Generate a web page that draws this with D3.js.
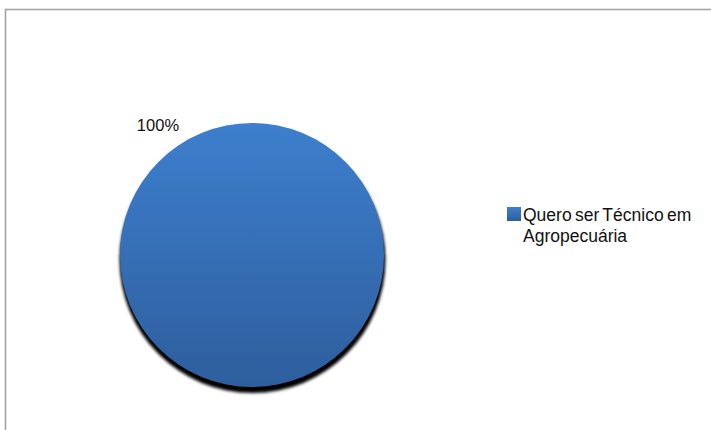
<!DOCTYPE html>
<html>
<head>
<meta charset="utf-8">
<script src="https://cdn.jsdelivr.net/npm/d3@7"></script>
<style>
  body { margin: 0; background: #fff; }
  svg { display: block; font-family: "Liberation Sans", Arial, sans-serif; }
</style>
</head>
<body>
<svg id="chart" width="711" height="430"></svg>
<script>
// data
let categories = ["Quero ser Técnico em Agropecuária"]
let values = [100]
let pctLabels = ["100%"]
let legendLines = [["Quero ser Técnico em", "Agropecuária"]]

let chart = d3.select('#chart'),
    width = +chart.attr('width'),
    height = +chart.attr('height')

// chart area frame (only top and left edges are visible)
chart.append("rect")
    .attr("x", 5.5).attr("y", 9.5)
    .attr("width", width + 20).attr("height", height + 20)
    .attr("fill", "none")
    .attr("stroke", "#a3a3a3")
    .attr("stroke-width", 1.6)

let defs = chart.append("defs")
let grad = defs.append("linearGradient")
    .attr("id", "blue-grad")
    .attr("x1", 0).attr("y1", 0).attr("x2", 0).attr("y2", 1)
grad.append("stop").attr("offset", "0%").attr("stop-color", "#3d7fcd")
grad.append("stop").attr("offset", "100%").attr("stop-color", "#2e5e9d")

let blur = defs.append("filter").attr("id", "shadow")
    .attr("x", "-10%").attr("y", "-10%").attr("width", "120%").attr("height", "120%")
blur.append("feGaussianBlur").attr("stdDeviation", 1.6)

let cx = 252, cy = 255, radius = 132
let g = chart.append("g").attr("transform", "translate(" + cx + "," + cy + ")")

let color = d3.scaleOrdinal(categories, ["url(#blue-grad)"])

let pie = d3.pie().sort(null).value(d => d.value)
let data = categories.map((c, i) => ({ name: c, value: values[i], label: pctLabels[i] }))

let path = d3.arc().outerRadius(radius).innerRadius(0)
let shadowPath = d3.arc().outerRadius(radius + 1).innerRadius(0)

let arcs = g.selectAll(".arc")
    .data(pie(data))
    .enter().append("g")
    .attr("class", "arc")

// drop shadow
arcs.append("path")
    .attr("d", shadowPath)
    .attr("transform", "translate(0.5,5)")
    .attr("fill", "#000")
    .attr("filter", "url(#shadow)")

arcs.append("path")
    .attr("d", path)
    .attr("fill", d => color(d.data.name))

// percentage label, placed outside the slice toward top-left
let labelAngle = -36 * Math.PI / 180, labelR = 160
arcs.append("text")
    .attr("x", Math.sin(labelAngle) * labelR)
    .attr("y", -Math.cos(labelAngle) * labelR)
    .attr("dy", "0.35em")
    .attr("text-anchor", "middle")
    .attr("font-size", 16.5)
    .attr("fill", "#111")
    .text(d => d.data.label)

// legend
let legend = chart.append("g").attr("transform", "translate(507,207)")
let item = legend.selectAll(".item")
    .data(categories)
    .enter().append("g")
    .attr("class", "item")

item.append("rect")
    .attr("width", 14).attr("height", 14)
    .attr("fill", d => color(d))

item.append("text")
    .attr("x", 16)
    .attr("y", 14)
    .attr("font-size", 17.5)
    .attr("fill", "#111")
    .attr("word-spacing", -1.5)
    .selectAll("tspan")
    .data((d, i) => legendLines[i])
    .enter().append("tspan")
    .attr("x", 16)
    .attr("dy", (d, i) => i === 0 ? 0 : 21)
    .text(d => d)
</script>
</body>
</html>
